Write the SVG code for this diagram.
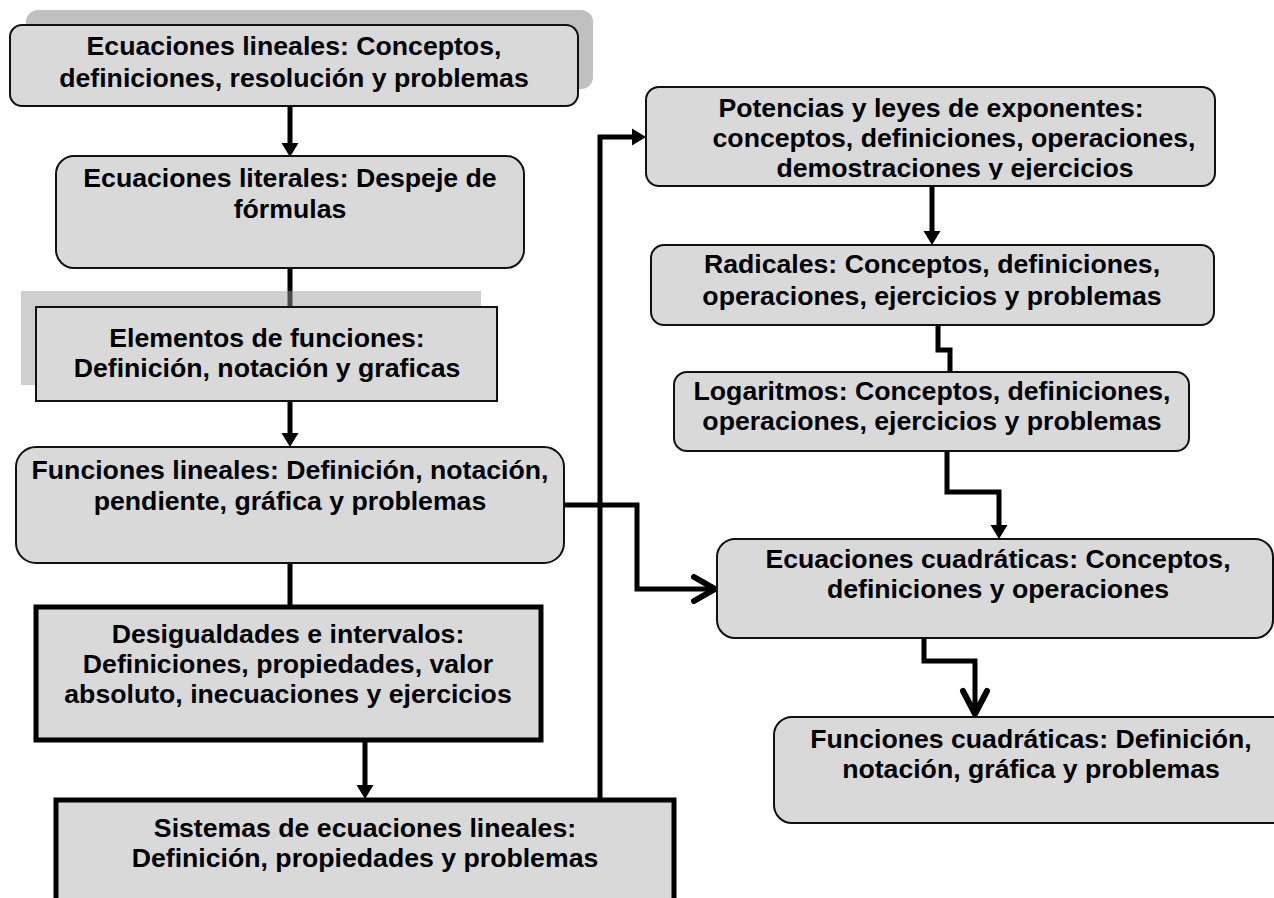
<svg xmlns="http://www.w3.org/2000/svg" width="1274" height="898" viewBox="0 0 1274 898">
<style>
.box{fill:#d9d9d9;stroke:#111;stroke-width:2}
.boxb{fill:#d9d9d9;stroke:#000;stroke-width:5}
.sh{fill:#c0c0c0}
.sh2{fill:#9a9a9a;fill-opacity:0.48}
.t{font-family:"Liberation Sans",Arial,sans-serif;font-weight:bold;font-size:26.67px;fill:#000;text-anchor:middle}
.c{fill:none;stroke:#000;stroke-width:5;stroke-linejoin:miter}
.v{fill:none;stroke:#000;stroke-width:6;stroke-linecap:round;stroke-linejoin:miter}
</style>
<defs>
<marker id="tri" markerUnits="userSpaceOnUse" markerWidth="16" markerHeight="20" viewBox="0 0 16 20" refX="0" refY="10" orient="auto" overflow="visible">
<path d="M0,1.5 L14,10 L0,18.5 Z" fill="#000"/>
</marker>
<clipPath id="clipPot"><rect x="640" y="80" width="600" height="99.5"/></clipPath>
</defs>
<rect width="1274" height="898" fill="#fff"/>
<g id="connectors">
<path class="c" d="M290,106 V143" marker-end="url(#tri)"/>
<path class="c" d="M290,268 V307"/>
<path class="c" d="M290,401 V433" marker-end="url(#tri)"/>
<path class="c" d="M290,563 V607"/>
<path class="c" d="M365,740 V785" marker-end="url(#tri)"/>
<path class="c" d="M600,800 V137 H632" marker-end="url(#tri)"/>
<path class="c" d="M564,505 H637 V589 H714"/>
<polyline class="v" points="694,577 715,589 694,601"/>
<path class="c" d="M932,186 V231" marker-end="url(#tri)"/>
<path class="c" d="M938,326 V350 H950 V372"/>
<path class="c" d="M947,451 V492 H999 V525" marker-end="url(#tri)"/>
<path class="c" d="M924,638 V661 H975 V714"/>
<polyline class="v" points="963,691 975,714 987,691"/>
</g>
<g id="n1">
<rect class="sh" x="26" y="10" width="567" height="79" rx="12"/>
<rect class="box" x="10" y="25" width="568" height="81" rx="12"/>
<text class="t" x="294" y="55">Ecuaciones lineales: Conceptos,</text>
<text class="t" x="294" y="87">definiciones, resolución y problemas</text>
</g>
<g id="n2">
<rect class="box" x="56" y="156" width="468" height="112" rx="18"/>
<text class="t" x="290" y="187">Ecuaciones literales: Despeje de</text>
<text class="t" x="290" y="218">fórmulas</text>
</g>
<g id="n3">
<rect class="sh2" x="21" y="291" width="460" height="94"/>
<rect class="box" x="36" y="307" width="461" height="94"/>
<text class="t" x="267" y="347">Elementos de funciones:</text>
<text class="t" x="267" y="377">Definición, notación y graficas</text>
</g>
<g id="n4">
<rect class="box" x="16" y="447" width="548" height="116" rx="20"/>
<text class="t" x="290" y="479">Funciones lineales: Definición, notación,</text>
<text class="t" x="290" y="510">pendiente, gráfica y problemas</text>
</g>
<g id="n5">
<rect class="boxb" x="36" y="607" width="505" height="133"/>
<text class="t" x="288" y="643">Desigualdades e intervalos:</text>
<text class="t" x="288" y="673">Definiciones, propiedades, valor</text>
<text class="t" x="288" y="703">absoluto, inecuaciones y ejercicios</text>
</g>
<g id="n6">
<rect class="boxb" x="56" y="800" width="618" height="120"/>
<text class="t" x="365" y="837">Sistemas de ecuaciones lineales:</text>
<text class="t" x="365" y="867">Definición, propiedades y problemas</text>
</g>
<g id="n7">
<rect class="box" x="646" y="87" width="569" height="99" rx="13"/>
<g clip-path="url(#clipPot)">
<text class="t" x="931" y="117">Potencias y leyes de exponentes:</text>
<text class="t" x="954" y="147">conceptos, definiciones, operaciones,</text>
<text class="t" x="955" y="177">demostraciones y ejercicios</text>
</g>
</g>
<g id="n8">
<rect class="box" x="651" y="245" width="563" height="80" rx="13"/>
<text class="t" x="932" y="273">Radicales: Conceptos, definiciones,</text>
<text class="t" x="932" y="305">operaciones, ejercicios y problemas</text>
</g>
<g id="n9">
<rect class="box" x="674" y="372" width="515" height="79" rx="13"/>
<text class="t" x="932" y="400">Logaritmos: Conceptos, definiciones,</text>
<text class="t" x="932" y="430">operaciones, ejercicios y problemas</text>
</g>
<g id="n10">
<rect class="box" x="717" y="539" width="556" height="99" rx="18"/>
<text class="t" x="998" y="568">Ecuaciones cuadráticas: Conceptos,</text>
<text class="t" x="998" y="598">definiciones y operaciones</text>
</g>
<g id="n11">
<rect class="box" x="774" y="717" width="530" height="106" rx="18"/>
<text class="t" x="1031" y="748">Funciones cuadráticas: Definición,</text>
<text class="t" x="1031" y="778">notación, gráfica y problemas</text>
</g>
</svg>
